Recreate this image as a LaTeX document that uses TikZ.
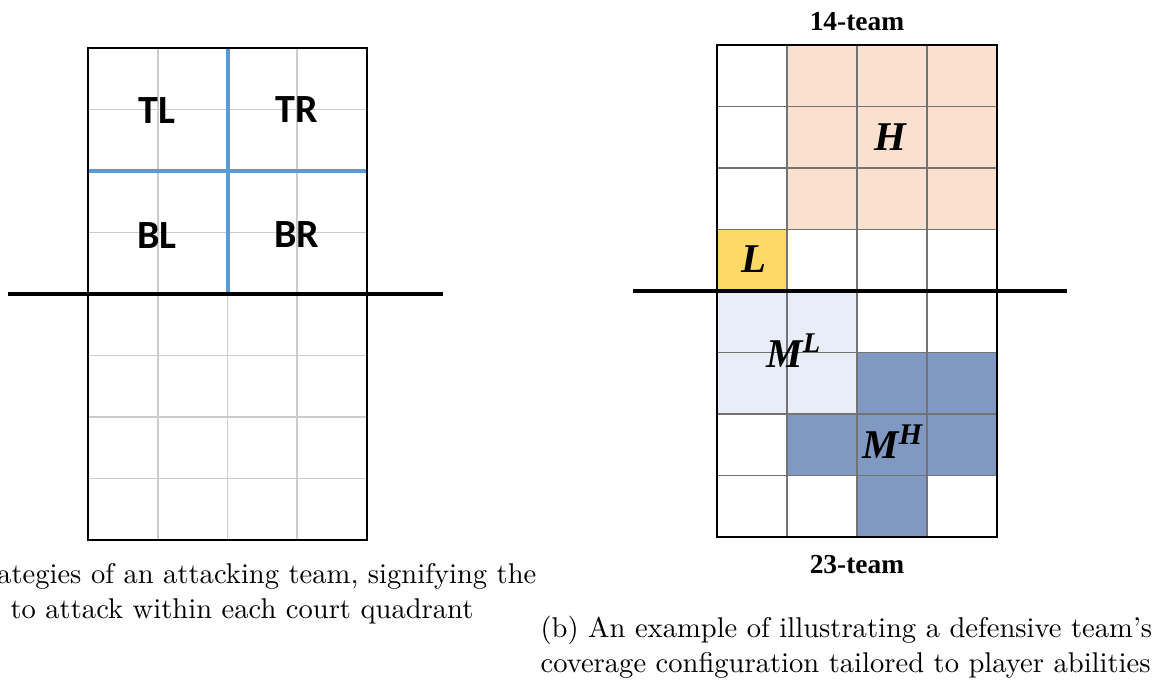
\documentclass[tikz,border=0pt]{standalone}
\usepackage{fontspec}
\newfontfamily\quadfont{Carlito}
\newfontfamily\teamfont{Liberation Serif}
\definecolor{quadblue}{RGB}{91,155,213}
\definecolor{highpeach}{RGB}{250,224,207}
\definecolor{lowyellow}{RGB}{255,217,102}
\definecolor{midlight}{RGB}{233,237,247}
\definecolor{midheavy}{RGB}{128,153,194}

\begin{document}
\begin{tikzpicture}[x=0.35pt, y=-0.35pt,
        lightgrid/.style={draw=black!20, line width=0.65pt},
        darkgrid/.style={draw=black!55, line width=0.6pt},
        courtedge/.style={draw=black, line width=0.85pt},
        netline/.style={draw=black, line width=1.6pt},
        quadline/.style={draw=quadblue, line width=1.3pt},
        quadlabel/.style={anchor=base, inner sep=0pt, font=\quadfont\bfseries\fontsize{14}{16}\selectfont},
        zonelabel/.style={inner sep=0pt, font=\teamfont\bfseries\itshape\fontsize{14.3}{16}\selectfont},
        teamlabel/.style={anchor=base, inner sep=0pt, font=\teamfont\bfseries\fontsize{9.6}{11}\selectfont},
        caption/.style={inner sep=0pt, font=\fontsize{10}{12}\selectfont}
    ]
    \useasboundingbox (0,0) rectangle (1164,679);

    % (a) attacking quadrants
    \foreach \i in {1,2,3}
        \draw[lightgrid] ({88+69.75*\i},48) -- ({88+69.75*\i},540);
    \foreach \j in {1,...,7}
        \draw[lightgrid] (88,{48+61.5*\j}) -- (367,{48+61.5*\j});
    \draw[quadline] (228,48) -- (228,294);
    \draw[quadline] (88,171) -- (367,171);
    \draw[courtedge] (88,48) rectangle (367,540);
    \draw[netline] (8,294) -- (443,294);

    \node[quadlabel] (tl) at (157,123) {TL};
    \node[quadlabel] (tr) at (297,122) {TR};
    \node[quadlabel] (bl) at (157,248) {BL};
    \node[quadlabel] (br) at (297,247) {BR};

    \node[caption, anchor=base east] (capa1) at (537,583) {ategies of an attacking team, signifying the};
    \node[caption, anchor=base east] (capa2) at (474,618) {to attack within each court quadrant};

    % (b) defensive coverage
    \fill[highpeach] (787,45) rectangle (997,229.5);
    \fill[lowyellow] (717,229.5) rectangle (787,291);
    \fill[midlight] (717,291) rectangle (857,414);
    \fill[midheavy] (857,352.5) rectangle (997,414);
    \fill[midheavy] (787,414) rectangle (997,475.5);
    \fill[midheavy] (857,475.5) rectangle (927,537);
    \foreach \i in {1,2,3}
        \draw[darkgrid] ({717+70*\i},45) -- ({717+70*\i},537);
    \foreach \j in {1,...,7}
        \draw[darkgrid] (717,{45+61.5*\j}) -- (997,{45+61.5*\j});
    \draw[courtedge] (717,45) rectangle (997,537);
    \draw[netline] (633,291) -- (1067,291);

    \node[zonelabel, anchor=base] (high) at (890,150) {H};
    \node[zonelabel, anchor=base] (low) at (754,272) {L};
    \node[zonelabel, anchor=base west] (midlow) at (766,367) {M\raisebox{5.2pt}{\fontsize{10}{11}\selectfont L}};
    \node[zonelabel, anchor=base west] (midhigh) at (862,458) {M\raisebox{4.6pt}{\fontsize{10.5}{11}\selectfont H}};

    \node[teamlabel] (topteam) at (857,30) {14-team};
    \node[teamlabel] (bottomteam) at (857,573) {23-team};

    \node[caption, anchor=base west] (capb1) at (540,637) {(b) An example of illustrating a defensive team's};
    \node[caption, anchor=base west] (capb2) at (540,672) {coverage configuration tailored to player abilities};
\end{tikzpicture}
\end{document}
